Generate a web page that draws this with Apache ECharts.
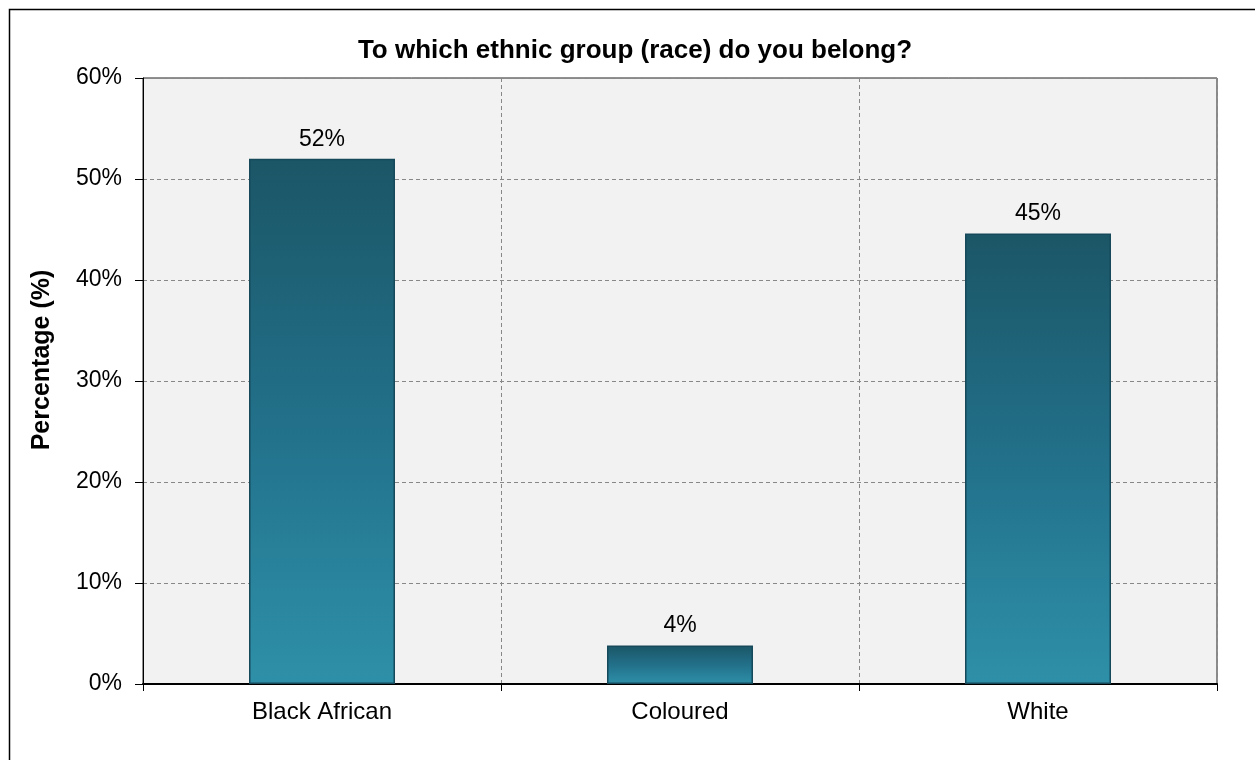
<!DOCTYPE html>
<html>
<head>
<meta charset="utf-8">
<script src="https://cdn.jsdelivr.net/npm/echarts@6/dist/echarts.min.js"></script>
<style>
html,body{margin:0;padding:0;background:#fff;}
#chart{width:1255px;height:760px;}
</style>
</head>
<body>
<div id="chart"></div>
<script>
var categories = ['Black African', 'Coloured', 'White'];
var values = [52.0, 3.8, 44.6];
var yTicks = [0, 10, 20, 30, 40, 50, 60];

var chart = echarts.init(document.getElementById('chart'), null, {renderer: 'canvas'});
var font = '"Liberation Sans", Arial, sans-serif';
chart.setOption({
  backgroundColor: '#ffffff',
  animation: false,
  title: {
    text: 'To which ethnic group (race) do you belong?',
    left: 630, top: 33, textAlign: 'center',
    textStyle: {fontFamily: font, fontSize: 26, fontWeight: 'bold', color: '#000'}
  },
  graphic: [{
    type: 'rect', left: 7, top: 7, z: -1,
    shape: {x: 0, y: 0, width: 1260, height: 770},
    style: {fill: 'none', stroke: '#000', lineWidth: 1.5}
  }],
  grid: {
    left: 143, right: 38, top: 78, bottom: 76,
    show: true, backgroundColor: '#f2f2f2', borderColor: '#222', borderWidth: 1
  },
  xAxis: {
    type: 'category',
    data: categories,
    axisLine: {show: true, lineStyle: {color: '#000', width: 2}},
    axisTick: {show: true, length: 7, lineStyle: {color: '#000'}},
    axisLabel: {fontFamily: font, fontSize: 24, color: '#000', margin: 16},
    splitLine: {show: true, lineStyle: {color: '#888', type: [4, 3], width: 1}}
  },
  yAxis: {
    type: 'value',
    min: yTicks[0], max: yTicks[yTicks.length - 1], interval: 10,
    name: 'Percentage (%)',
    nameLocation: 'middle', nameGap: 88, nameRotate: 90,
    nameTextStyle: {fontFamily: font, fontSize: 25, fontWeight: 'bold', color: '#000',
      padding: [0, 0, 0, 42]},
    axisLine: {show: true, lineStyle: {color: '#000', width: 1}},
    axisTick: {show: true, length: 8, lineStyle: {color: '#000'}},
    axisLabel: {fontFamily: font, fontSize: 23, color: '#000', margin: 21,
      formatter: function (v) { return v + '%'; }},
    splitLine: {show: true, lineStyle: {color: '#888', type: [4, 3], width: 1}}
  },
  series: [{
    type: 'bar',
    data: values,
    barWidth: 146,
    itemStyle: {
      color: new echarts.graphic.LinearGradient(0, 0, 0, 1, [
        {offset: 0, color: '#1b5666'},
        {offset: 0.5, color: '#22708a'},
        {offset: 1, color: '#2e90a8'}
      ]),
      borderColor: '#16495a',
      borderWidth: 1.5
    },
    label: {
      show: true, position: 'top', distance: 8,
      fontFamily: font, fontSize: 23, color: '#000',
      formatter: function (p) { return Math.round(p.value) + '%'; }
    }
  }]
});
</script>
</body>
</html>
